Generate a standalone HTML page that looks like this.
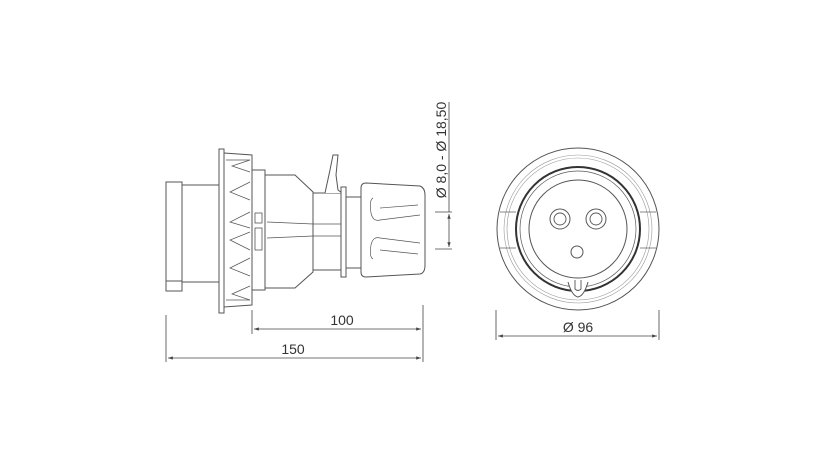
<!DOCTYPE html>
<html><head><meta charset="utf-8"><style>
html,body{margin:0;padding:0;background:#fff;}
svg{display:block;}
text{font-family:"Liberation Sans",sans-serif;fill:#333;}
</style></head><body>
<svg width="825" height="464" viewBox="0 0 825 464" xmlns="http://www.w3.org/2000/svg">
<defs>
<marker id="a" viewBox="0 0 10 10" refX="10" refY="5" markerWidth="6" markerHeight="6" orient="auto-start-reverse"><path d="M0,1.5 L10,5 L0,8.5 z" fill="#444"/></marker>
</defs>
<g fill="#fff" stroke="#555" stroke-width="1">
<rect x="166" y="182" width="16" height="109"/>
<rect x="166" y="281" width="16" height="10"/>
<rect x="182" y="185" width="37" height="97"/>
<rect x="219" y="149" width="5" height="164"/>
<path d="M224,153 L252,155 L252,305 L224,307 Z"/>
<g fill="none" stroke-width="0.7">
<path d="M250,160 L232,166 L250,172 M250,182 L230,192 L250,200 M250,212 L230,222 L250,228 M250,232 L230,240 L250,250 M250,258 L230,268 L250,276 M250,286 L232,294 L250,300"/>
<path d="M226,160 L250,160 M226,300 L250,300"/>
</g>
<rect x="252" y="170" width="13" height="120"/>
<rect x="255" y="213" width="7" height="10" stroke-width="0.8"/>
<rect x="255" y="228" width="7" height="22" stroke-width="0.8"/>
<path d="M265,175 L295,175 L313,192 L313,272 L295,288 L265,288 Z"/>
<path d="M267,222 L313,224 M267,238 L313,236" fill="none" stroke-width="0.7"/>
<rect x="313" y="193" width="29" height="77"/>
<path d="M313,224 L342,224 M313,236 L342,236" fill="none" stroke-width="0.7"/>
<path d="M325,193 L330,170 L333,155 L338,155 L336,175 L338,190 L342,193"/>
<rect x="341" y="187" width="5" height="90"/>
<rect x="346" y="197" width="15" height="71"/>
<path d="M361,188 Q361,183 366,183 L420,186 Q425,188 425,195 L425,265 Q425,273 420,274 L366,277 Q361,277 361,272 Z"/>
<path d="M373,198 Q369,200 371,213 Q373,222 380,220 L420,215 M373,259 Q369,257 371,245 Q373,236 380,238 L420,243 M380,208 L418,205 M380,250 L418,254" fill="none" stroke-width="0.7"/>
</g>
<g stroke="#444" stroke-width="0.8" fill="none">
<line x1="166" y1="315" x2="166" y2="362"/>
<line x1="252" y1="310" x2="252" y2="334"/>
<line x1="423" y1="305" x2="423" y2="362"/>
<line x1="254" y1="329" x2="421" y2="329" marker-start="url(#a)" marker-end="url(#a)"/>
<line x1="168" y1="358" x2="421" y2="358" marker-start="url(#a)" marker-end="url(#a)"/>
<line x1="449" y1="102" x2="449" y2="212"/>
<line x1="435" y1="212" x2="452" y2="212"/>
<line x1="435" y1="249" x2="452" y2="249"/>
<line x1="449" y1="214" x2="449" y2="247" marker-start="url(#a)" marker-end="url(#a)"/>
<line x1="496" y1="310" x2="496" y2="340"/>
<line x1="659" y1="310" x2="659" y2="340"/>
<line x1="498" y1="336" x2="657" y2="336" marker-start="url(#a)" marker-end="url(#a)"/>
</g>
<text x="342" y="325" font-size="14" text-anchor="middle">100</text>
<text x="293" y="354" font-size="14" text-anchor="middle">150</text>
<text x="578" y="332" font-size="14" text-anchor="middle">Ø 96</text>
<text transform="translate(446,150) rotate(-90)" font-size="14" text-anchor="middle">Ø 8,0 - Ø 18,50</text>
<g fill="none" stroke="#555">
<circle cx="578" cy="229" r="81" stroke-width="1"/>
<circle cx="578" cy="229" r="74" stroke-width="0.6" stroke="#999"/>
<circle cx="578" cy="229" r="71" stroke-width="0.6" stroke="#999"/>
<circle cx="578" cy="229" r="62" stroke-width="2" stroke="#333"/>
<circle cx="578" cy="229" r="58" stroke-width="0.7"/>
<circle cx="578" cy="229" r="49" stroke-width="1"/>
<line x1="500" y1="212" x2="516" y2="212" stroke-width="0.7"/>
<line x1="500" y1="248" x2="516" y2="248" stroke-width="0.7"/>
<line x1="640" y1="212" x2="656" y2="212" stroke-width="0.7"/>
<line x1="640" y1="248" x2="656" y2="248" stroke-width="0.7"/>
<circle cx="560" cy="219" r="10" stroke-width="1"/>
<circle cx="560" cy="219" r="6" stroke-width="0.9"/>
<circle cx="596" cy="219" r="10" stroke-width="1"/>
<circle cx="596" cy="219" r="6" stroke-width="0.9"/>
<circle cx="577" cy="252" r="6" stroke-width="1"/>
<path d="M568,282 Q572,296 578,297 Q584,296 588,282" stroke-width="1" fill="#fff"/>
<path d="M575,280 L575,289 Q578,292 581,289 L581,280" stroke-width="0.9"/>
</g>
</svg>
</body></html>
